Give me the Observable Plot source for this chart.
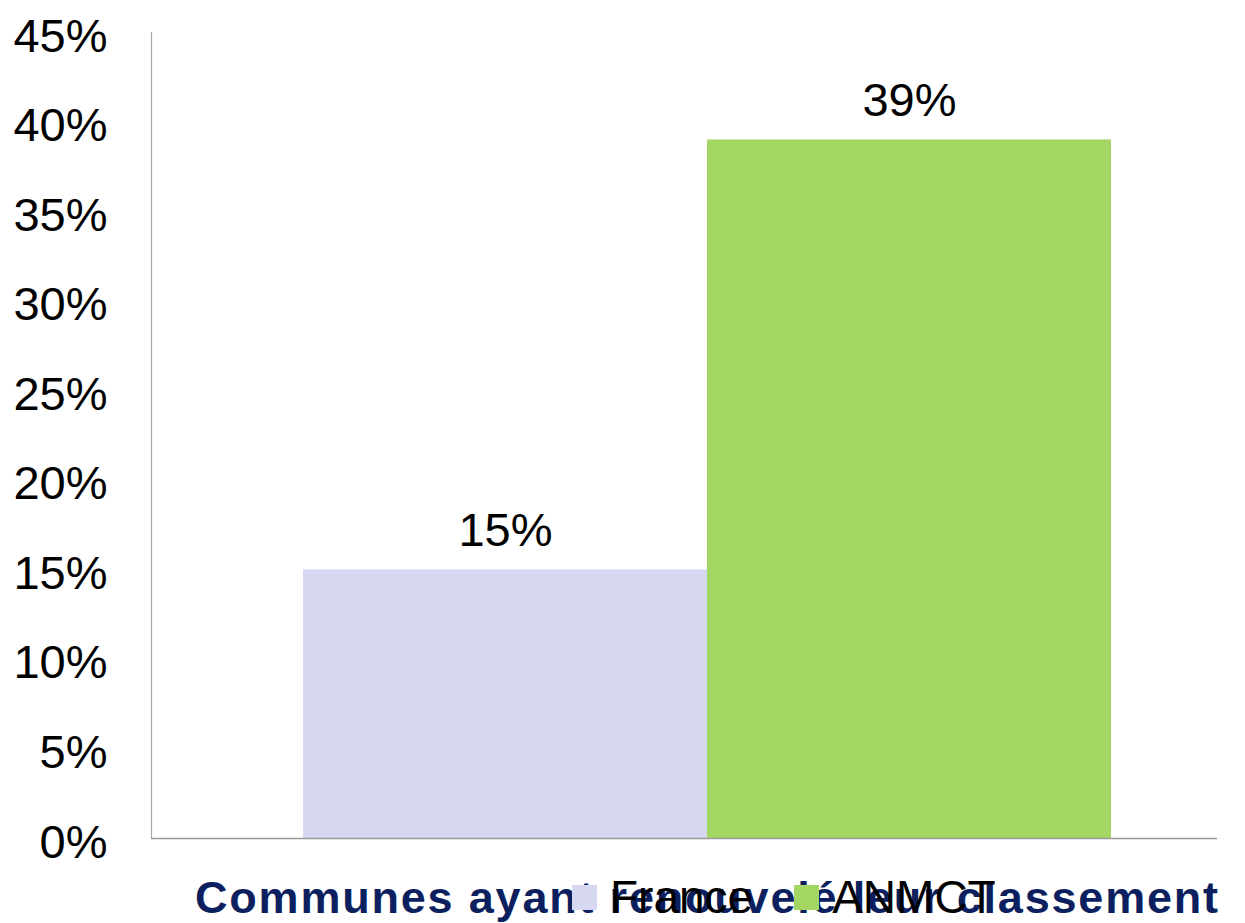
<!DOCTYPE html>
<html>
<head>
<meta charset="utf-8">
<script src="https://cdn.jsdelivr.net/npm/d3@7"></script>
<script src="https://cdn.jsdelivr.net/npm/@observablehq/plot@0.6"></script>
<style>
  html, body { margin: 0; padding: 0; background: #fff; }
  #wrap { position: relative; width: 1245px; height: 923px; font-family: "Liberation Sans", Arial, sans-serif; }
  #title { position: absolute; left: 195px; top: 875px; font-size: 45px; line-height: 1; font-weight: bold; color: #0C1F5E; white-space: nowrap; letter-spacing: 1.8px; }
  #legend { position: absolute; left: 572px; top: 874px; display: flex; align-items: center; font-size: 46px; line-height: 1; color: #000; white-space: nowrap; }
  .item { display: flex; align-items: center; margin-right: 41px; }
  .sw { width: 25px; height: 25px; margin-right: 13px; }
</style>
</head>
<body>
<div id="wrap"></div>
<script>
const categories = ["France", "ANMCT"];
const values = [15, 39];
const colors = ["#D6D7F1", "#A3D663"];
const yTicks = [0, 5, 10, 15, 20, 25, 30, 35, 40, 45];
const titleText = "Communes ayant renouvelé leur classement";

const data = categories.map((c, i) => ({category: c, value: values[i]}));

const chart = Plot.plot({
  width: 1245,
  height: 860,
  marginTop: 32,
  marginBottom: 22,
  marginLeft: 151,
  marginRight: 28,
  style: {fontFamily: "Liberation Sans, Arial, sans-serif", background: "#fff", overflow: "visible"},
  x: {domain: categories, range: [302, 1111], padding: 0, axis: null},
  y: {domain: [0, 45], ticks: yTicks, tickFormat: d => d + "%", label: null},
  color: {domain: categories, range: colors},
  marks: [
    Plot.barY(data, {x: "category", y: "value", fill: "category"}),
    Plot.text(data, {x: "category", y: "value", text: d => d.value + "%", dy: -24, lineAnchor: "bottom", fontSize: 47, fill: "#000"}),
    Plot.axisY({ticks: yTicks, tickFormat: d => d + "%", tickSize: 0, tickPadding: 44, fontSize: 47, dy: 4, fill: "#000", label: null}),
    Plot.frame({anchor: "left", stroke: "#aaa", strokeWidth: 1.2}),
    Plot.ruleY([0], {stroke: "#999", strokeWidth: 1.5})
  ]
});

const wrap = document.getElementById("wrap");
wrap.appendChild(chart);

const title = document.createElement("div");
title.id = "title";
title.textContent = titleText;
wrap.appendChild(title);

const legend = document.createElement("div");
legend.id = "legend";
categories.forEach((c, i) => {
  const item = document.createElement("div");
  item.className = "item";
  const sw = document.createElement("div");
  sw.className = "sw";
  sw.style.background = colors[i];
  const t = document.createElement("span");
  t.textContent = c;
  item.appendChild(sw);
  item.appendChild(t);
  legend.appendChild(item);
});
wrap.appendChild(legend);
</script>
</body>
</html>
